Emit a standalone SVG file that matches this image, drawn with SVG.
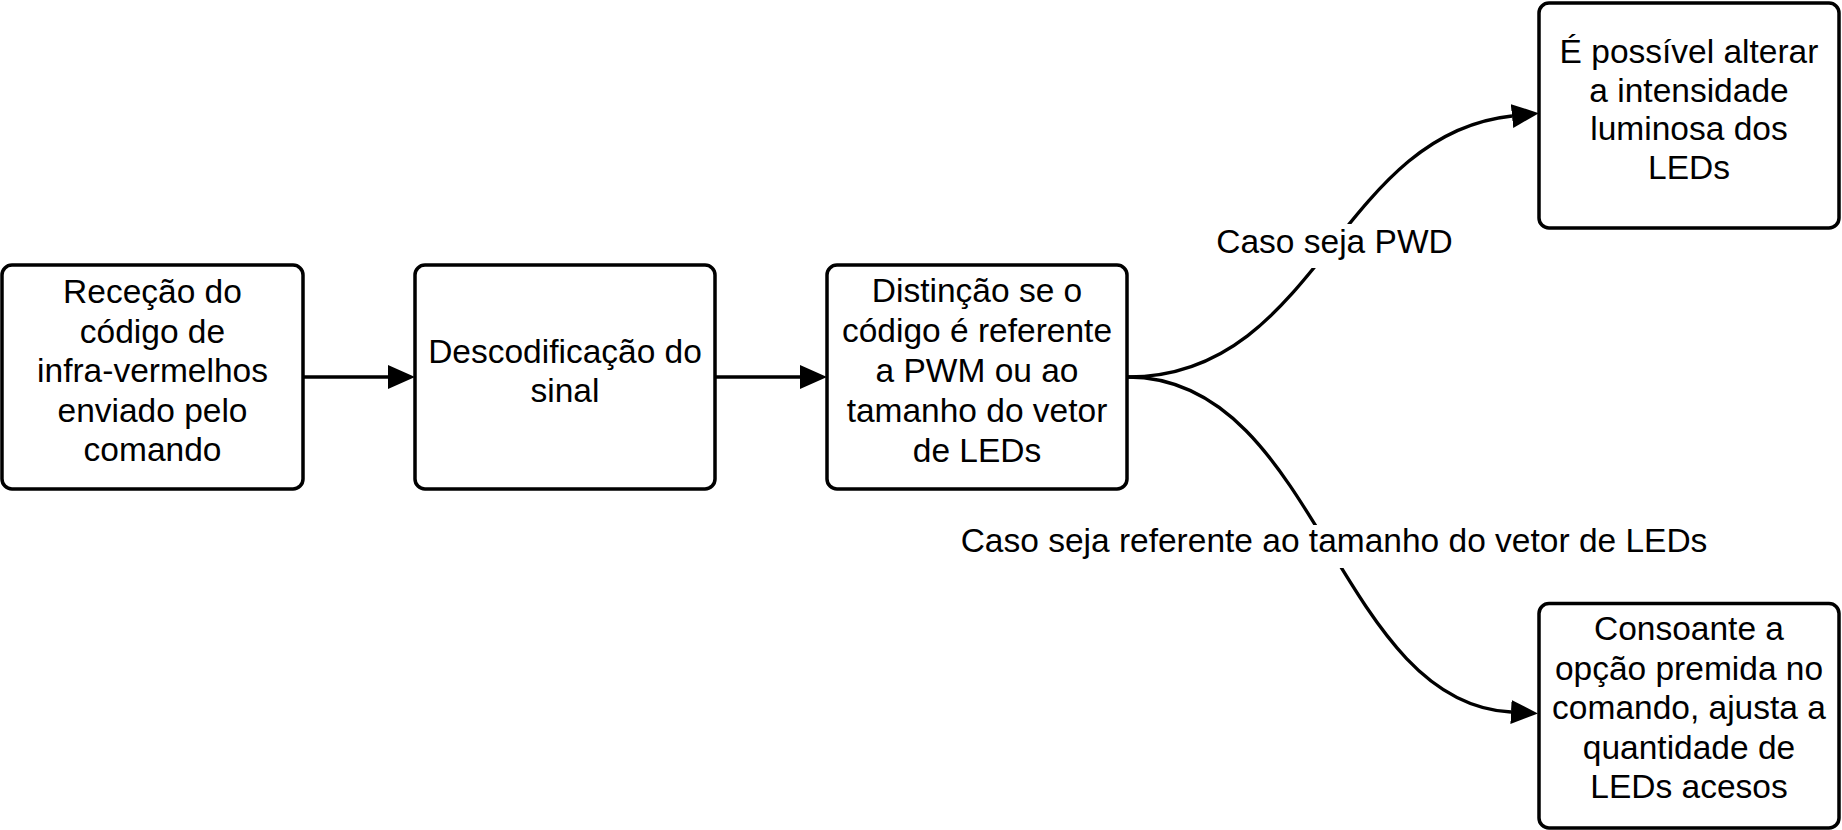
<svg xmlns="http://www.w3.org/2000/svg" width="1842" height="830" viewBox="0 0 1842 830">
<style>
.box{fill:#fff;stroke:#000;stroke-width:3.5}
.t{font-family:"Liberation Sans",Arial,sans-serif;font-size:33.5px;fill:#000;text-anchor:middle}
.c{fill:none;stroke:#000;stroke-width:3.3}
.lbg{fill:#fff;stroke:none}
</style>
<defs>
<marker id="ah" markerUnits="userSpaceOnUse" markerWidth="30" markerHeight="26" refX="0" refY="12" orient="auto" viewBox="0 0 30 26">
<path d="M0,0 L27,12 L0,24 Z" fill="#000"/>
</marker>
</defs>
<rect width="1842" height="830" fill="#fff"/>
<g id="connectors">
<path class="c" d="M303,377 L388,377" marker-end="url(#ah)"/>
<path class="c" d="M715,377 L800,377" marker-end="url(#ah)"/>
<path class="c" d="M1128,377 C1318,377 1337,134.4 1512,116" marker-end="url(#ah)"/>
<path class="c" d="M1128,377 C1318,377 1336,703 1511,712" marker-end="url(#ah)"/>
<g id="label-pwd">
<rect class="lbg" x="1213" y="224" width="243" height="44"/>
<text class="t" x="1334.5" y="253">Caso seja PWD</text>
</g>
<g id="label-leds">
<rect class="lbg" x="956" y="525" width="756" height="43"/>
<text class="t" x="1334" y="552">Caso seja referente ao tamanho do vetor de LEDs</text>
</g>
</g>
<g id="n1">
<rect class="box" x="2" y="265" width="301" height="224" rx="10"/>
<text class="t" x="152.5" y="303">Receção do</text>
<text class="t" x="152.5" y="342.5">código de</text>
<text class="t" x="152.5" y="382">infra-vermelhos</text>
<text class="t" x="152.5" y="421.5">enviado pelo</text>
<text class="t" x="152.5" y="461">comando</text>
</g>
<g id="n2">
<rect class="box" x="415" y="265" width="300" height="224" rx="10"/>
<text class="t" x="565" y="363">Descodificação do</text>
<text class="t" x="565" y="402">sinal</text>
</g>
<g id="n3">
<rect class="box" x="827" y="265" width="300" height="224" rx="10"/>
<text class="t" x="977" y="302">Distinção se o</text>
<text class="t" x="977" y="342">código é referente</text>
<text class="t" x="977" y="382">a PWM ou ao</text>
<text class="t" x="977" y="422">tamanho do vetor</text>
<text class="t" x="977" y="462">de LEDs</text>
</g>
<g id="n4">
<rect class="box" x="1539" y="3" width="300" height="225" rx="10"/>
<text class="t" x="1689" y="63">É possível alterar</text>
<text class="t" x="1689" y="101.5">a intensidade</text>
<text class="t" x="1689" y="140">luminosa dos</text>
<text class="t" x="1689" y="178.5">LEDs</text>
</g>
<g id="n5">
<rect class="box" x="1539" y="603.5" width="300" height="224.5" rx="10"/>
<text class="t" x="1689" y="640">Consoante a</text>
<text class="t" x="1689" y="679.5">opção premida no</text>
<text class="t" x="1689" y="719">comando, ajusta a</text>
<text class="t" x="1689" y="758.5">quantidade de</text>
<text class="t" x="1689" y="798">LEDs acesos</text>
</g>
</svg>
